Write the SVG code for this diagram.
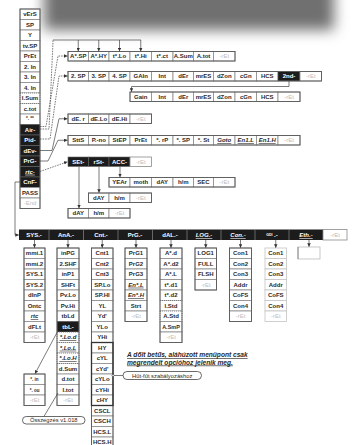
<svg xmlns="http://www.w3.org/2000/svg" width="355" height="445" viewBox="0 0 355 445">
<style>
.c{fill:#fff;stroke:#8a8a8a;stroke-width:.8}
.k{fill:#1c1c1c;stroke:#666;stroke-width:.6}
.d{fill:#fff;stroke:#666;stroke-width:.8;stroke-dasharray:1.2 .8}
.o{fill:none;stroke:#5a5a5a;stroke-width:.9}
text{font-family:"Liberation Sans",Arial,sans-serif;font-size:6px;font-weight:bold;fill:#2a2a2a;text-anchor:middle}
.w{fill:#fff}
.r{fill:#bdbdbd;font-weight:normal}
.u{font-style:italic;text-decoration:underline}
.ln{fill:none;stroke:#444;stroke-width:.7}
.ds{stroke-dasharray:1.6 1}
.pill{fill:#fff;stroke:#444;stroke-width:.8}
</style>
<defs>
<filter id="bl" x="-20%" y="-100%" width="140%" height="300%"><feGaussianBlur stdDeviation="7"/></filter>
<marker id="a" viewBox="0 0 6 6" refX="6" refY="3" markerWidth="3.5" markerHeight="3.5" markerUnits="userSpaceOnUse" orient="auto"><path d="M0,0 L6,3 L0,6 z" fill="#333"/></marker>
</defs>
<rect x="0" y="0" width="355" height="445" fill="#fff"/>
<rect x="44" y="-28" width="290" height="58" fill="#707070" filter="url(#bl)"/>

<g id="n-main">
<rect class="c" x="20" y="9" width="20" height="10.5"/><text x="30" y="16.2">vErS</text>
<rect class="c" x="20" y="19.5" width="20" height="10.5"/><text x="30" y="26.7">SP</text>
<rect class="c" x="20" y="30" width="20" height="10.5"/><text x="30" y="37.2">Y</text>
<rect class="c" x="20" y="40.5" width="20" height="10.5"/><text x="30" y="47.7">tv.SP</text>
<rect class="c" x="20" y="51" width="20" height="10.5"/><text x="30" y="58.2">PrEt</text>
<rect class="c" x="20" y="61.5" width="20" height="10.5"/><text x="30" y="68.7">2. In</text>
<rect class="c" x="20" y="72" width="20" height="10.5"/><text x="30" y="79.2">3. In</text>
<rect class="c" x="20" y="82.5" width="20" height="10.5"/><text x="30" y="89.7">4. In</text>
<rect class="d" x="20" y="93" width="20" height="10.5"/><text x="30" y="100.2">I.Sum</text>
<rect class="d" x="20" y="103.5" width="20" height="10.5"/><text x="30" y="110.7">c.tot</text>
<rect class="c" x="20" y="114" width="20" height="10.5"/><text x="30" y="120.2" style="font-size:4.5px">*. **</text>
<rect class="k" x="20" y="124.5" width="20" height="10.5"/><text class="w" x="30" y="131.7">Air-</text>
<rect class="k" x="20" y="135" width="20" height="10.5"/><text class="w" x="30" y="142.2">Pid-</text>
<rect class="k" x="20" y="145.5" width="20" height="10.5"/><text class="w" x="30" y="152.7">dEv-</text>
<rect class="k" x="20" y="156" width="20" height="10.5"/><text class="w" x="30" y="163.2">PrG-</text>
<rect class="k" x="20" y="166.5" width="20" height="10.5"/><text class="w u" x="30" y="173.7">rtc-</text>
<rect class="k" x="20" y="177" width="20" height="10.5"/><text class="w" x="30" y="184.2">CnF-</text>
<rect class="c" x="20" y="187.5" width="20" height="10.5"/><text x="30" y="194.7">PASS</text>
<rect class="c" x="20" y="198" width="20" height="10.5"/><text class="r" x="30" y="205.2">-End</text>
<rect class="o" x="20" y="9" width="20" height="199.5"/>
</g>

<g id="n-air">
<rect class="c" x="68" y="51.5" width="20.5" height="9.5"/><text x="78.25" y="58.3">A*.SP</text>
<rect class="c" x="88.5" y="51.5" width="20.5" height="9.5"/><text x="98.75" y="58.3">A*.HY</text>
<rect class="c" x="109" y="51.5" width="21" height="9.5"/><text x="119.5" y="58.3">t*.Lo</text>
<rect class="c" x="130" y="51.5" width="21.5" height="9.5"/><text x="140.75" y="58.3">t*.Hi</text>
<rect class="c" x="151.5" y="51.5" width="21.5" height="9.5"/><text x="162.25" y="58.3">t*.ct</text>
<rect class="c" x="173" y="51.5" width="20.5" height="9.5"/><text x="183.25" y="58.3">A.Sum</text>
<rect class="c" x="193.5" y="51.5" width="20" height="9.5"/><text x="203.5" y="58.3">A.tot</text>
<rect class="c" x="213.5" y="51.5" width="21.5" height="9.5"/><text class="r" x="224.25" y="58.3">-rEt</text>
<rect class="o" x="68" y="51.5" width="167" height="9.5"/>
</g>

<g id="n-pid">
<rect class="c" x="68" y="71.5" width="20.5" height="9.5"/><text x="78.25" y="78.3">2. SP</text>
<rect class="c" x="88.5" y="71.5" width="20.5" height="9.5"/><text x="98.75" y="78.3">3. SP</text>
<rect class="c" x="109" y="71.5" width="21" height="9.5"/><text x="119.5" y="78.3">4. SP</text>
<rect class="c" x="130" y="71.5" width="21.5" height="9.5"/><text x="140.75" y="78.3">GAIn</text>
<rect class="c" x="151.5" y="71.5" width="21.5" height="9.5"/><text x="162.25" y="78.3">Int</text>
<rect class="c" x="173" y="71.5" width="20.5" height="9.5"/><text x="183.25" y="78.3">dEr</text>
<rect class="c" x="193.5" y="71.5" width="20" height="9.5"/><text x="203.5" y="78.3">mrES</text>
<rect class="c" x="213.5" y="71.5" width="21.5" height="9.5"/><text x="224.25" y="78.3">dZon</text>
<rect class="c" x="235" y="71.5" width="21.5" height="9.5"/><text x="245.75" y="78.3">cGn</text>
<rect class="c" x="256.5" y="71.5" width="21.5" height="9.5"/><text x="267.25" y="78.3">HCS</text>
<rect class="k" x="278" y="71.5" width="22" height="9.5"/><text class="w" x="289" y="78.3">2nd-</text>
<rect class="c" x="300" y="71.5" width="21.5" height="9.5"/><text class="r" x="310.75" y="78.3">-rEt</text>
<rect class="o" x="68" y="71.5" width="253.5" height="9.5"/>
</g>

<g id="n-gain">
<rect class="c" x="130" y="92" width="21.5" height="9.5"/><text x="140.75" y="98.8">Gain</text>
<rect class="c" x="151.5" y="92" width="21.5" height="9.5"/><text x="162.25" y="98.8">Int</text>
<rect class="c" x="173" y="92" width="20.5" height="9.5"/><text x="183.25" y="98.8">dEr</text>
<rect class="c" x="193.5" y="92" width="20" height="9.5"/><text x="203.5" y="98.8">mrES</text>
<rect class="c" x="213.5" y="92" width="21.5" height="9.5"/><text x="224.25" y="98.8">dZon</text>
<rect class="c" x="235" y="92" width="21.5" height="9.5"/><text x="245.75" y="98.8">cGn</text>
<rect class="c" x="256.5" y="92" width="21.5" height="9.5"/><text x="267.25" y="98.8">HCS</text>
<rect class="c" x="278" y="92" width="22" height="9.5"/><text class="r" x="289" y="98.8">-rEt</text>
<rect class="o" x="130" y="92" width="170" height="9.5"/>
</g>

<g id="n-dev">
<rect class="c" x="68" y="114" width="20.5" height="9.5"/><text x="78.25" y="120.8">dE. r</text>
<rect class="c" x="88.5" y="114" width="20.5" height="9.5"/><text x="98.75" y="120.8">dE.Lo</text>
<rect class="c" x="109" y="114" width="21" height="9.5"/><text x="119.5" y="120.8">dE.Hi</text>
<rect class="c" x="130" y="114" width="21.5" height="9.5"/><text class="r" x="140.75" y="120.8">-rEt</text>
<rect class="o" x="68" y="114" width="83.5" height="9.5"/>
</g>

<g id="n-prg">
<rect class="c" x="68" y="135.5" width="20.5" height="9.5"/><text x="78.25" y="142.3">SttS</text>
<rect class="c" x="88.5" y="135.5" width="20.5" height="9.5"/><text x="98.75" y="142.3">P.-no</text>
<rect class="c" x="109" y="135.5" width="21" height="9.5"/><text x="119.5" y="142.3">StEP</text>
<rect class="c" x="130" y="135.5" width="21.5" height="9.5"/><text x="140.75" y="142.3">PrEt</text>
<rect class="c" x="151.5" y="135.5" width="21.5" height="9.5"/><text x="162.25" y="142.3">*. rP</text>
<rect class="c" x="173" y="135.5" width="20.5" height="9.5"/><text x="183.25" y="142.3">*. SP</text>
<rect class="c" x="193.5" y="135.5" width="20" height="9.5"/><text x="203.5" y="142.3">*. St</text>
<rect class="c" x="213.5" y="135.5" width="21.5" height="9.5"/><text class="u" x="224.25" y="142.3">Goto</text>
<rect class="c" x="235" y="135.5" width="21.5" height="9.5"/><text class="u" x="245.75" y="142.3">En1.L</text>
<rect class="c" x="256.5" y="135.5" width="21.5" height="9.5"/><text class="u" x="267.25" y="142.3">En1.H</text>
<rect class="c" x="278" y="135.5" width="22" height="9.5"/><text class="r" x="289" y="142.3">-rEt</text>
<rect class="o" x="68" y="135.5" width="232" height="9.5"/>
</g>

<g id="n-rtc">
<rect class="k" x="68" y="157" width="20.5" height="9.5"/><text class="w" x="78.25" y="163.8">SEt-</text>
<rect class="k" x="88.5" y="157" width="20.5" height="9.5"/><text class="w" x="98.75" y="163.8">rSt-</text>
<rect class="k" x="109" y="157" width="21" height="9.5"/><text class="w" x="119.5" y="163.8">ACC-</text>
<rect class="c" x="130" y="157" width="21.5" height="9.5"/><text class="r" x="140.75" y="163.8">-rEt</text>
</g>

<g id="n-acc">
<rect class="c" x="109" y="177.5" width="21" height="9.5"/><text x="119.5" y="184.3">YEAr</text>
<rect class="c" x="130" y="177.5" width="21.5" height="9.5"/><text x="140.75" y="184.3">moth</text>
<rect class="c" x="151.5" y="177.5" width="21.5" height="9.5"/><text x="162.25" y="184.3">dAY</text>
<rect class="c" x="173" y="177.5" width="20.5" height="9.5"/><text x="183.25" y="184.3">h/m</text>
<rect class="c" x="193.5" y="177.5" width="20" height="9.5"/><text x="203.5" y="184.3">SEC</text>
<rect class="c" x="213.5" y="177.5" width="21.5" height="9.5"/><text class="r" x="224.25" y="184.3">-rEt</text>
<rect class="o" x="109" y="177.5" width="126" height="9.5"/>
</g>

<g id="n-rst">
<rect class="c" x="88.5" y="193" width="20.5" height="9.5"/><text x="98.75" y="199.8">dAY</text>
<rect class="c" x="109" y="193" width="21" height="9.5"/><text x="119.5" y="199.8">h/m</text>
<rect class="c" x="130" y="193" width="21.5" height="9.5"/><text class="r" x="140.75" y="199.8">-rEt</text>
<rect class="o" x="88.5" y="193" width="63" height="9.5"/>
</g>

<g id="n-set">
<rect class="c" x="68" y="208.5" width="20.5" height="9.5"/><text x="78.25" y="215.3">dAY</text>
<rect class="c" x="88.5" y="208.5" width="20.5" height="9.5"/><text x="98.75" y="215.3">h/m</text>
<rect class="c" x="109" y="208.5" width="21" height="9.5"/><text class="r" x="119.5" y="215.3">-rEt</text>
<rect class="o" x="68" y="208.5" width="62" height="9.5"/>
</g>

<g id="n-cnf">
<rect x="19" y="229.5" width="304" height="10.5" fill="#1c1c1c"/>
<g stroke="#9a9a9a" stroke-width=".6">
<line x1="49" y1="229.5" x2="49" y2="240"/><line x1="83.5" y1="229.5" x2="83.5" y2="240"/><line x1="118" y1="229.5" x2="118" y2="240"/><line x1="152.5" y1="229.5" x2="152.5" y2="240"/><line x1="187" y1="229.5" x2="187" y2="240"/><line x1="221" y1="229.5" x2="221" y2="240"/><line x1="255" y1="229.5" x2="255" y2="240"/><line x1="289" y1="229.5" x2="289" y2="240"/>
</g>
<text class="w" x="34" y="237">SYS.-</text>
<text class="w" x="66" y="237">AnA.-</text>
<text class="w" x="101" y="237">Cnt.-</text>
<text class="w" x="135" y="237">PrG.-</text>
<text class="w" x="170" y="237">dAL.-</text>
<text class="w u" x="204" y="237">LOG.-</text>
<text class="w u" x="238" y="237">Con.-</text>
<text class="w" x="272" y="237"><tspan style="font-size:3.5px" dy="-1.5">GDI</tspan><tspan dy="1.5"> .-</tspan></text>
<text class="w u" x="306" y="237">Eth.-</text>
<rect class="c" x="323" y="229.5" width="24" height="10.5"/><text class="r" x="335" y="237">-rEt</text>
</g>

<g id="n-sys">
<rect class="c" x="24" y="248" width="21" height="10.5"/><text x="34.5" y="255.2">mmi.1</text>
<rect class="c" x="24" y="258.5" width="21" height="10.5"/><text x="34.5" y="265.7">mmi.2</text>
<rect class="c" x="24" y="269" width="21" height="10.5"/><text x="34.5" y="276.2">SYS.1</text>
<rect class="c" x="24" y="279.5" width="21" height="10.5"/><text x="34.5" y="286.7">SYS.2</text>
<rect class="c" x="24" y="290" width="21" height="10.5"/><text x="34.5" y="297.2">dInP</text>
<rect class="c" x="24" y="300.5" width="21" height="10.5"/><text x="34.5" y="307.7">Ontc</text>
<rect class="c" x="24" y="311" width="21" height="10.5"/><text class="u" x="34.5" y="318.2">rtc</text>
<rect class="c" x="24" y="321.5" width="21" height="10.5"/><text x="34.5" y="328.7">dFLt</text>
<rect class="c" x="24" y="332" width="21" height="10.5"/><text class="r" x="34.5" y="339.2">-rEt</text>
<rect class="o" x="24" y="248" width="21" height="94.5"/>
</g>

<g id="n-ana">
<rect class="c" x="57" y="248" width="22" height="10.5"/><text x="68" y="255.2">inPG</text>
<rect class="c" x="57" y="258.5" width="22" height="10.5"/><text x="68" y="265.7">2.SHF</text>
<rect class="c" x="57" y="269" width="22" height="10.5"/><text x="68" y="276.2">inP1</text>
<rect class="c" x="57" y="279.5" width="22" height="10.5"/><text x="68" y="286.7">SHFt</text>
<rect class="c" x="57" y="290" width="22" height="10.5"/><text x="68" y="297.2">Pv.Lo</text>
<rect class="c" x="57" y="300.5" width="22" height="10.5"/><text x="68" y="307.7">Pv.Hi</text>
<rect class="c" x="57" y="311" width="22" height="10.5"/><text x="68" y="318.2">tbLd</text>
<rect class="k" x="57" y="321.5" width="22" height="10.5"/><text class="w" x="68" y="328.7">tbL-</text>
<rect class="d" x="57" y="332" width="22" height="10.5"/><text class="u" x="68" y="339.2">*.Lo.d</text>
<rect class="d" x="57" y="342.5" width="22" height="10.5"/><text class="u" x="68" y="349.7">*.Lo.L</text>
<rect class="d" x="57" y="353" width="22" height="10.5"/><text class="u" x="68" y="360.2">*.Lo.H</text>
<rect class="d" x="57" y="363.5" width="22" height="10.5"/><text x="68" y="370.7">d.Sum</text>
<rect class="c" x="57" y="374" width="22" height="10.5"/><text x="68" y="381.2">d.tot</text>
<rect class="c" x="57" y="384.5" width="22" height="10.5"/><text x="68" y="391.7">I.tot</text>
<rect class="c" x="57" y="395" width="22" height="10.5"/><text class="r" x="68" y="402.2">-rEt</text>
<rect class="o" x="57" y="248" width="22" height="157.5"/>
</g>

<g id="n-cnt">
<rect class="c" x="91.5" y="248" width="21.5" height="10.5"/><text x="102.25" y="255.2">Cnt1</text>
<rect class="c" x="91.5" y="258.5" width="21.5" height="10.5"/><text x="102.25" y="265.7">Cnt2</text>
<rect class="c" x="91.5" y="269" width="21.5" height="10.5"/><text x="102.25" y="276.2">Cnt3</text>
<rect class="c" x="91.5" y="279.5" width="21.5" height="10.5"/><text x="102.25" y="286.7">SP.Lo</text>
<rect class="c" x="91.5" y="290" width="21.5" height="10.5"/><text x="102.25" y="297.2">SP.HI</text>
<rect class="c" x="91.5" y="300.5" width="21.5" height="10.5"/><text x="102.25" y="307.7">YL</text>
<rect class="c" x="91.5" y="311" width="21.5" height="10.5"/><text x="102.25" y="318.2">Yd'</text>
<rect class="c" x="91.5" y="321.5" width="21.5" height="10.5"/><text x="102.25" y="328.7">YLo</text>
<rect class="c" x="91.5" y="332" width="21.5" height="10.5"/><text x="102.25" y="339.2">YHi</text>
<rect class="c" x="91.5" y="342.5" width="21.5" height="10.5"/><text x="102.25" y="349.7">HY</text>
<rect class="c" x="91.5" y="353" width="21.5" height="10.5"/><text x="102.25" y="360.2">cYL</text>
<rect class="c" x="91.5" y="363.5" width="21.5" height="10.5"/><text x="102.25" y="370.7">cYd'</text>
<rect class="c" x="91.5" y="374" width="21.5" height="10.5"/><text x="102.25" y="381.2">cYLo</text>
<rect class="c" x="91.5" y="384.5" width="21.5" height="10.5"/><text x="102.25" y="391.7">cYHi</text>
<rect class="c" x="91.5" y="395" width="21.5" height="10.5"/><text x="102.25" y="402.2">cHY</text>
<rect class="c" x="91.5" y="405.5" width="21.5" height="10.5"/><text x="102.25" y="412.7">CSCL</text>
<rect class="c" x="91.5" y="416" width="21.5" height="10.5"/><text x="102.25" y="423.2">CSCH</text>
<rect class="c" x="91.5" y="426.5" width="21.5" height="10.5"/><text x="102.25" y="433.7">HCS.L</text>
<rect class="c" x="91.5" y="437" width="21.5" height="10.5"/><text x="102.25" y="444.2">HCS.H</text>
<rect class="o" x="91.5" y="248" width="21.5" height="199.5"/>
<rect x="91.5" y="342.5" width="21.5" height="63" fill="none" stroke="#333" stroke-width="1.3"/>
</g>

<g id="n-prgc">
<rect class="c" x="125" y="248" width="22" height="10.5"/><text x="136" y="255.2">PrG1</text>
<rect class="c" x="125" y="258.5" width="22" height="10.5"/><text x="136" y="265.7">PrG2</text>
<rect class="c" x="125" y="269" width="22" height="10.5"/><text x="136" y="276.2">PrG3</text>
<rect class="c" x="125" y="279.5" width="22" height="10.5"/><text class="u" x="136" y="286.7">En*.L</text>
<rect class="c" x="125" y="290" width="22" height="10.5"/><text class="u" x="136" y="297.2">En*.H</text>
<rect class="c" x="125" y="300.5" width="22" height="10.5"/><text x="136" y="307.7">Strt</text>
<rect class="c" x="125" y="311" width="22" height="10.5"/><text class="r" x="136" y="318.2">-rEt</text>
<rect class="o" x="125" y="248" width="22" height="73.5"/>
</g>

<g id="n-dal">
<rect class="c" x="160" y="248" width="22" height="10.5"/><text x="171" y="255.2">A*.d</text>
<rect class="c" x="160" y="258.5" width="22" height="10.5"/><text x="171" y="265.7">A*.d2</text>
<rect class="c" x="160" y="269" width="22" height="10.5"/><text x="171" y="276.2">A*.L</text>
<rect class="c" x="160" y="279.5" width="22" height="10.5"/><text x="171" y="286.7">t*.d1</text>
<rect class="c" x="160" y="290" width="22" height="10.5"/><text x="171" y="297.2">t*.d2</text>
<rect class="d" x="160" y="300.5" width="22" height="10.5"/><text x="171" y="307.7">I.Std</text>
<rect class="d" x="160" y="311" width="22" height="10.5"/><text x="171" y="318.2">A.Std</text>
<rect class="c" x="160" y="321.5" width="22" height="10.5"/><text x="171" y="328.7" style="font-size:5.5px">A.SmP</text>
<rect class="c" x="160" y="332" width="22" height="10.5"/><text class="r" x="171" y="339.2">-rEt</text>
<rect class="o" x="160" y="248" width="22" height="94.5"/>
</g>

<g id="n-log">
<rect class="c" x="195" y="248" width="21.5" height="10.5"/><text x="205.75" y="255.2">LOG1</text>
<rect class="c" x="195" y="258.5" width="21.5" height="10.5"/><text x="205.75" y="265.7">FULL</text>
<rect class="c" x="195" y="269" width="21.5" height="10.5"/><text x="205.75" y="276.2">FLSH</text>
<rect class="c" x="195" y="279.5" width="21.5" height="10.5"/><text class="r" x="205.75" y="286.7">-rEt</text>
<rect class="o" x="195" y="248" width="21.5" height="42"/>
</g>

<g id="n-con">
<rect class="c" x="229.5" y="248" width="22" height="10.5"/><text x="240.5" y="255.2">Con1</text>
<rect class="c" x="229.5" y="258.5" width="22" height="10.5"/><text x="240.5" y="265.7">Con2</text>
<rect class="c" x="229.5" y="269" width="22" height="10.5"/><text x="240.5" y="276.2">Con3</text>
<rect class="c" x="229.5" y="279.5" width="22" height="10.5"/><text x="240.5" y="286.7">Addr</text>
<rect class="c" x="229.5" y="290" width="22" height="10.5"/><text x="240.5" y="297.2">CoFS</text>
<rect class="c" x="229.5" y="300.5" width="22" height="10.5"/><text x="240.5" y="307.7">Con4</text>
<rect class="c" x="229.5" y="311" width="22" height="10.5"/><text class="r" x="240.5" y="318.2">-rEt</text>
<rect class="o" x="229.5" y="248" width="22" height="73.5"/>
</g>

<g id="n-gdi">
<rect class="c" x="265" y="248" width="21.5" height="10.5" style="stroke:#c4c4c4"/><text x="275.75" y="255.2">Con1</text>
<rect class="c" x="265" y="258.5" width="21.5" height="10.5" style="stroke:#c4c4c4"/><text x="275.75" y="265.7">Con2</text>
<rect class="c" x="265" y="269" width="21.5" height="10.5" style="stroke:#c4c4c4"/><text x="275.75" y="276.2">Con3</text>
<rect class="c" x="265" y="279.5" width="21.5" height="10.5" style="stroke:#c4c4c4"/><text x="275.75" y="286.7">Addr</text>
<rect class="c" x="265" y="290" width="21.5" height="10.5" style="stroke:#c4c4c4"/><text x="275.75" y="297.2">CoFS</text>
<rect class="c" x="265" y="300.5" width="21.5" height="10.5" style="stroke:#c4c4c4"/><text x="275.75" y="307.7">Con4</text>
<rect class="c" x="265" y="311" width="21.5" height="10.5" style="stroke:#c4c4c4"/><text class="r" x="275.75" y="318.2">-rEt</text>
</g>

<g id="n-eth">
<rect class="c" x="298" y="247" width="22" height="12" style="stroke:#bbb"/>
<line x1="298" y1="247" x2="298" y2="259" stroke="#777" stroke-width=".8"/>
</g>

<g id="n-unit">
<rect class="c" x="24" y="374" width="21" height="10.5"/><text x="34.5" y="381" style="font-size:4.5px">*.  in</text>
<rect class="c" x="24" y="384.5" width="21" height="10.5"/><text x="34.5" y="391.5" style="font-size:4.5px">*.  ou</text>
<rect class="c" x="24" y="395" width="21" height="10.5"/><text class="r" x="34.5" y="402.2">-rEt</text>
<rect class="o" x="24" y="374" width="21" height="31.5"/>
</g>

<g id="n-hutfut">
<rect class="pill" x="123" y="371.5" width="78.5" height="8" rx="4"/>
<text x="162.25" y="377.6" style="font-weight:normal;font-size:5.8px">Hűt-fűt szabályozáshoz</text>
</g>

<g id="n-osszeg">
<rect class="pill" x="22.5" y="416.5" width="62.5" height="7.5" rx="3.7"/>
<text x="53.75" y="422.3" style="font-weight:normal;font-size:5.8px">Összegzés v1.018</text>
</g>

<g id="n-note">
<text class="u" x="127" y="357" style="text-anchor:start;font-size:6.6px">A dőlt betűs, aláhúzott menüpont csak</text>
<text class="u" x="127" y="364.5" style="text-anchor:start;font-size:6.6px">megrendelt opcióhoz jelenik meg.</text>
</g>

<g id="connectors">
<path class="ln ds" d="M40,126.5 L46,126.5 L58,56 L67.5,56" marker-end="url(#a)"/>
<path class="ln ds" d="M40,129 L49,129 L53,42 L53,40"/>
<path class="ln" d="M53,40 L141,40"/>
<path class="ln" d="M78.25,40 L78.25,51.2" marker-end="url(#a)"/>
<path class="ln" d="M98.75,40 L98.75,51.2" marker-end="url(#a)"/>
<path class="ln" d="M119.5,40 L119.5,51.2" marker-end="url(#a)"/>
<path class="ln" d="M140.75,40 L140.75,51.2" marker-end="url(#a)"/>
<path class="ln ds" d="M40,139 L50,139 L59,76 L67.5,76" marker-end="url(#a)"/>
<path class="ln" d="M40,150.5 L52,150.5 L59,118.75 L67.5,118.75" marker-end="url(#a)"/>
<path class="ln" d="M40,161 L48,161 L58,140.25 L67.5,140.25" marker-end="url(#a)"/>
<path class="ln ds" d="M40,171.5 L67.5,161.8" marker-end="url(#a)"/>
<path class="ln" d="M289,81 L289,86.5 L131.5,86.5 L131.5,91.7" marker-end="url(#a)"/>
<path class="ln" d="M79,166.5 L79,208.2" marker-end="url(#a)"/>
<path class="ln" d="M99,166.5 L99,192.7" marker-end="url(#a)"/>
<path class="ln" d="M120,166.5 L120,177.2" marker-end="url(#a)"/>
<path class="ln" d="M20,182 L15,182 L15,235 L18.8,235" marker-end="url(#a)"/>
<path class="ln" d="M34.5,240 L34.5,247.8" marker-end="url(#a)"/>
<path class="ln" d="M68,240 L68,247.8" marker-end="url(#a)"/>
<path class="ln" d="M102.25,240 L102.25,247.8" marker-end="url(#a)"/>
<path class="ln" d="M136,240 L136,247.8" marker-end="url(#a)"/>
<path class="ln" d="M171,240 L171,247.8" marker-end="url(#a)"/>
<path class="ln" d="M205.75,240 L205.75,247.8" marker-end="url(#a)"/>
<path class="ln" d="M240.5,240 L240.5,247.8" marker-end="url(#a)"/>
<path class="ln" d="M275.75,240 L275.75,247.8" marker-end="url(#a)"/>
<path class="ln" d="M309,240 L309,246.8" marker-end="url(#a)"/>
<path class="ln" d="M57,332.5 L35,373.7" marker-end="url(#a)"/>
<path class="ln" d="M58,393 L44,416.3"/>
<path class="ln" d="M113,375.5 L123,375.5"/>
<circle cx="113" cy="375.5" r="1.1" fill="#fff" stroke="#444" stroke-width=".6"/>
</g>
</svg>
